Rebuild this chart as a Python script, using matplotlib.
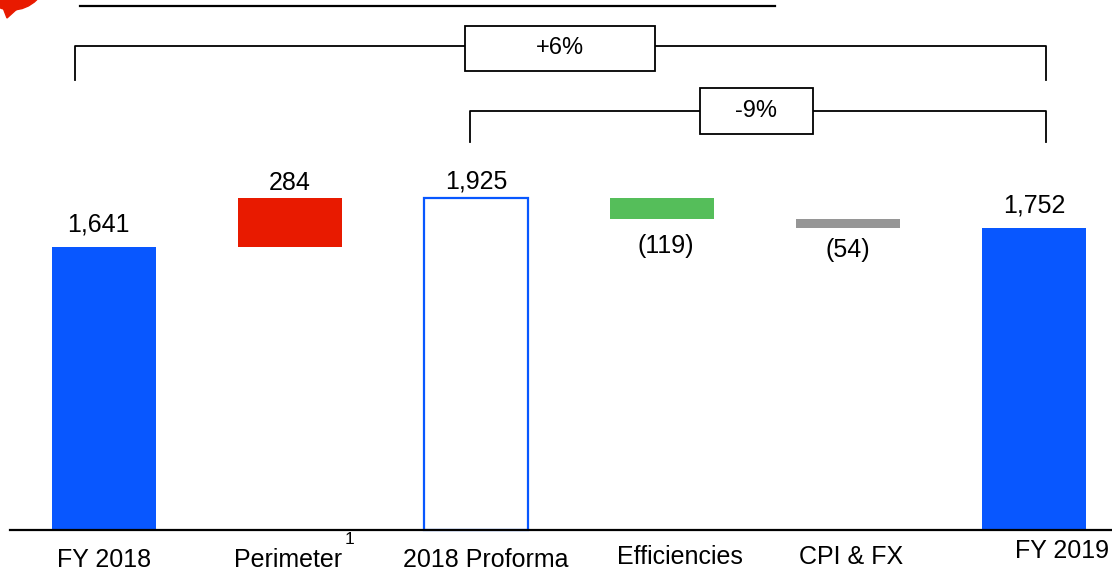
import matplotlib.pyplot as plt
import matplotlib.patches as mpatches
from matplotlib.lines import Line2D
import numpy as np

plt.rcParams['font.family'] = ['Liberation Sans', 'DejaVu Sans']

# данные водопада
categories = ['FY 2018', 'Perimeter', '2018 Proforma', 'Efficiencies', 'CPI & FX', 'FY 2019']
values = [1641, 284, 1925, -119, -54, 1752]
kinds = ['total', 'delta', 'total', 'delta', 'delta', 'total']
value_labels = ['1,641', '284', '1,925', '(119)', '(54)', '1,752']
colors = ['#0857FF', '#E81A00', 'white', '#55BE5A', '#969696', '#0857FF']
edge_colors = ['none', 'none', '#0857FF', 'none', 'none', 'none']
bracket_labels = ['+6%', '-9%']

W, H = 1112, 571
fig = plt.figure(figsize=(W / 100, H / 100), dpi=100)
ax = fig.add_axes([0, 0, 1, 1])

# масштаб: центр первого столбца 104 px, шаг 186 px, база 530 px
px_per_unit = 0.17247
ax.set_xlim((0 - 104) / 186, (W - 104) / 186)
ax.set_ylim(-(H - 530) / px_per_unit, 530 / px_per_unit)
ax.axis('off')

# вычисление низа и верха столбцов
bottoms, tops = [], []
running = 0
for v, k in zip(values, kinds):
    if k == 'total':
        bottoms.append(0)
        tops.append(v)
        running = v
    else:
        new = running + v
        bottoms.append(min(running, new))
        tops.append(max(running, new))
        running = new

x = np.arange(len(categories))
heights = [t - b for t, b in zip(tops, bottoms)]
ax.bar(x, heights, bottom=bottoms, width=104 / 186, color=colors,
       edgecolor=edge_colors, linewidth=1.6)

# подписи значений (смещения в пикселях)
offsets = [(-6, 22), (0, 15), (0, 16), (4, -27), (0, -22), (0, 22)]
for i, (lbl, v) in enumerate(zip(value_labels, values)):
    y = tops[i] if v > 0 else bottoms[i]
    dx, dy = offsets[i]
    ax.annotate(lbl, (x[i], y), xytext=(dx * 0.72, dy * 0.72), textcoords='offset points',
                ha='center', va='center', fontsize=18)

# базовая линия
ax.plot([(10 - 104) / 186, (W - 104) / 186], [0, 0], color='black', lw=1.6, clip_on=False)


def fx(px):
    return px / W


def fy(py):
    return 1 - py / H


def line(xs, ys, lw=1.3):
    fig.add_artist(Line2D([fx(v) for v in xs], [fy(v) for v in ys],
                          transform=fig.transFigure, color='black', lw=lw))


def box(x0, y0, x1, y1, text):
    fig.add_artist(mpatches.Rectangle((fx(x0), fy(y1)), fx(x1) - fx(x0), fy(y0) - fy(y1),
                                      transform=fig.transFigure, facecolor='white',
                                      edgecolor='black', lw=1.3, zorder=3))
    fig.text(fx((x0 + x1) / 2), fy((y0 + y1) / 2), text, ha='center', va='center',
             fontsize=17, zorder=4)


# категории по оси X
cat_pos = [(104, 560), (288, 560), (486, 560), (680, 557), (851, 557), (1062, 551)]
for (px, py), name in zip(cat_pos, categories):
    fig.text(fx(px), fy(py), name, ha='center', va='center', fontsize=18)
fig.text(fx(349), fy(539), '1', ha='center', va='center', fontsize=12.5)

# верхняя линия
line([80, 775], [6, 6], lw=1.6)

# скобки
line([75, 75, 1046, 1046], [80, 46, 46, 80])
box(465, 26, 655, 71, bracket_labels[0])
line([470, 470, 1046, 1046], [142, 111, 111, 142])
box(700, 88, 813, 134, bracket_labels[1])

# красный значок слева сверху
fig.add_artist(mpatches.Ellipse((fx(12), fy(-25)), 70 / W, 70 / H, transform=fig.transFigure,
                                color='#E81A00', zorder=2))
fig.add_artist(mpatches.Polygon([(fx(2), fy(5)), (fx(7), fy(18)), (fx(18), fy(8))],
                                transform=fig.transFigure, color='#E81A00', zorder=2))

fig.savefig('out.png', dpi=100)
